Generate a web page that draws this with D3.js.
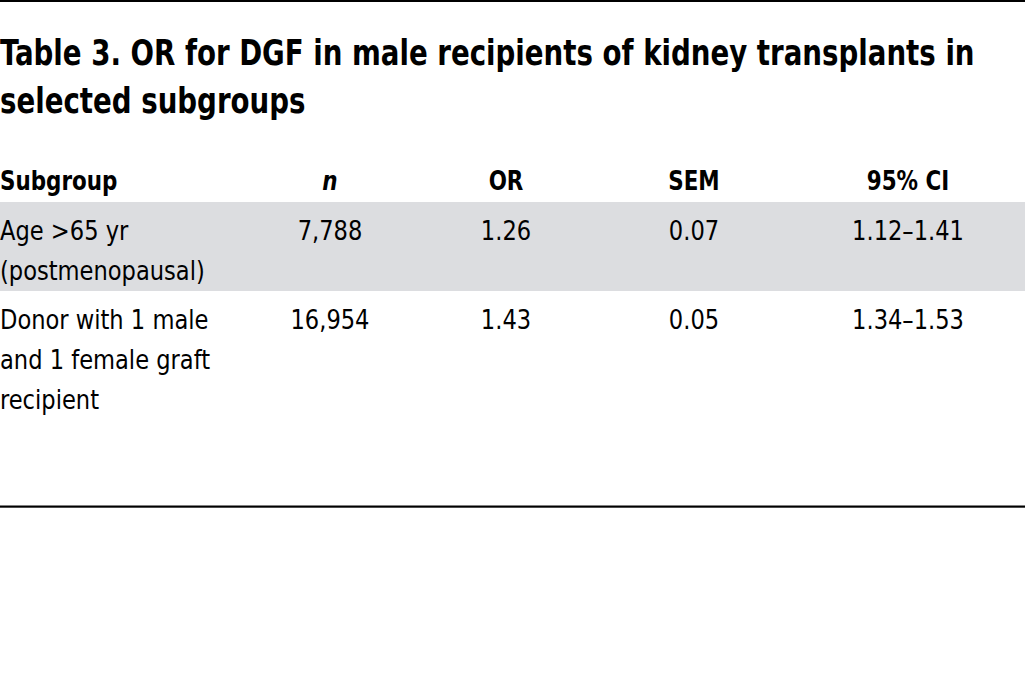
<!DOCTYPE html>
<html>
<head>
<meta charset="utf-8">
<script src="https://cdn.jsdelivr.net/npm/d3@7"></script>
<style>
  html, body { margin: 0; padding: 0; background: #fff; }
  svg { display: block; }
  text { font-family: "DejaVu Sans Condensed", "DejaVu Sans", sans-serif; fill: #000; }
</style>
</head>
<body>
<svg id="chart" width="1025" height="699"></svg>
<script>
// ---- data ----
const titleLines = ["Table 3. OR for DGF in male recipients of kidney transplants in", "selected subgroups"];
const columns = ["Subgroup", "n", "OR", "SEM", "95% CI"];
const subgroups = [["Age >65 yr", "(postmenopausal)"], ["Donor with 1 male", "and 1 female graft", "recipient"]];
const nValues = ["7,788", "16,954"];
const orValues = ["1.26", "1.43"];
const semValues = ["0.07", "0.05"];
const ciValues = ["1.12\u20131.41", "1.34\u20131.53"];

// ---- layout ----
const W = 1025, H = 699;
const svg = d3.select("#chart");

const x = d3.scaleOrdinal().domain(columns).range([0, 330, 506, 694, 908]);
const anchor = c => c === "Subgroup" ? "start" : "middle";

const rowTops = [202, 291];
const rowHeights = [89, 215];
const lineY = d3.scaleLinear().domain([0, 1]).range([38, 78]);

const SX_TITLE_TARGET = 975;
const SX_HEAD = 0.9;
const SX_BODY = 0.93;

// top rule
svg.append("rect").attr("x", 0).attr("y", 0).attr("width", W).attr("height", 2).attr("fill", "#000");

// title (condensed horizontally to match the narrow typeface)
const titleG = svg.append("g");
const titleTexts = titleG.selectAll("text").data(titleLines).join("text")
  .attr("x", 0).attr("y", 0)
  .attr("font-size", 35)
  .attr("font-weight", "bold")
  .text(d => d);
const w0 = titleTexts.nodes()[0].getComputedTextLength();
const sxTitle = SX_TITLE_TARGET / w0;
titleTexts.attr("transform", (d, i) => `translate(0,${65 + i * 48}) scale(${sxTitle},1)`);

// shaded first row
svg.append("rect").attr("x", 0).attr("y", rowTops[0]).attr("width", W).attr("height", rowHeights[0]).attr("fill", "#dcdde0");

// header
svg.append("g").selectAll("text").data(columns).join("text")
  .attr("transform", d => `translate(${x(d)},190) scale(${SX_HEAD},1)`)
  .attr("text-anchor", anchor)
  .attr("font-size", 26.5)
  .attr("font-weight", "bold")
  .attr("font-style", d => d === "n" ? "italic" : "normal")
  .text(d => d);

// body
const rows = subgroups.map((s, i) => ({
  i, cells: [
    { col: "Subgroup", lines: s },
    { col: "n", lines: [nValues[i]] },
    { col: "OR", lines: [orValues[i]] },
    { col: "SEM", lines: [semValues[i]] },
    { col: "95% CI", lines: [ciValues[i]] }
  ]
}));

const rowG = svg.append("g").selectAll("g").data(rows).join("g")
  .attr("transform", d => `translate(0,${rowTops[d.i]})`);

rowG.selectAll("text")
  .data(d => d.cells.flatMap(c => c.lines.map((t, k) => ({ col: c.col, t, k }))))
  .join("text")
  .attr("transform", d => `translate(${x(d.col)},${lineY(d.k)}) scale(${SX_BODY},1)`)
  .attr("text-anchor", d => anchor(d.col))
  .attr("font-size", 27)
  .text(d => d.t);

// bottom rule
svg.append("rect").attr("x", 0).attr("y", 505.5).attr("width", W).attr("height", 2.2).attr("fill", "#000");
</script>
</body>
</html>
